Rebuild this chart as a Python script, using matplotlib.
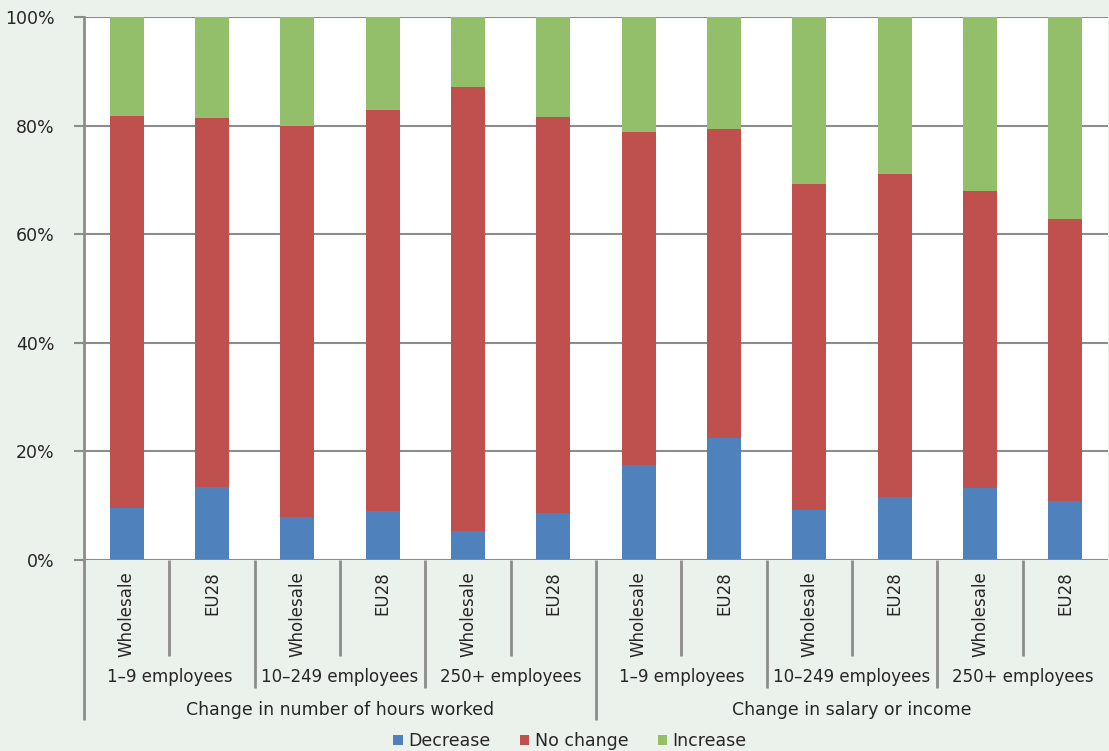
import matplotlib
matplotlib.use("Agg")
import matplotlib.pyplot as plt
import matplotlib.transforms as mtransforms
import numpy as np

# data (percent)
bar_labels = ["Wholesale", "EU28"] * 6
size_labels = ["1\u20139 employees", "10\u2013249 employees", "250+ employees"] * 2
topic_labels = ["Change in number of hours worked", "Change in salary or income"]
decrease = [9.6, 13.4, 7.9, 9.0, 5.3, 8.7, 17.5, 22.5, 9.2, 11.6, 13.3, 10.9]
no_change_top = [81.8, 81.4, 79.9, 82.9, 87.1, 81.6, 78.8, 79.4, 69.2, 71.1, 68.0, 62.8]
no_change = [t - d for t, d in zip(no_change_top, decrease)]
increase = [100 - t for t in no_change_top]

BG = "#ebf1eb"
GRID = "#8c8c8c"
TXT = "#262626"
colors = {"Decrease": "#4f81bd", "No change": "#c0504d", "Increase": "#93bf6a"}

plt.rcParams["font.family"] = ["DejaVu Sans"]

fig = plt.figure(figsize=(11.09, 7.51), dpi=100, facecolor=BG)
ax = fig.add_axes([84 / 1109, 191 / 751, 1024 / 1109, 543 / 751])
ax.set_facecolor("white")

x = np.arange(len(bar_labels))
w = 0.4
ax.bar(x, decrease, w, color=colors["Decrease"], label="Decrease", zorder=3)
ax.bar(x, no_change, w, bottom=decrease, color=colors["No change"], label="No change", zorder=3)
ax.bar(x, increase, w, bottom=no_change_top, color=colors["Increase"], label="Increase", zorder=3)

ax.set_xlim(-0.5, len(x) - 0.5)
ax.set_ylim(0, 100)
ax.set_yticks(range(0, 101, 20))
ax.set_yticklabels([f"{v}%" for v in range(0, 101, 20)], fontsize=12.5, color=TXT)
ax.tick_params(axis="y", length=7, width=1.5, color=GRID, pad=14)
ax.set_xticks([])
ax.grid(axis="y", color=GRID, lw=1.5, zorder=1)
for s in ["top", "right", "bottom"]:
    ax.spines[s].set_visible(False)
ax.spines["left"].set_color(GRID)
ax.spines["left"].set_linewidth(2)
ax.axhline(0, color=GRID, lw=2, zorder=4)

# multi-level category axis, drawn in data-x / pixel-y coordinates
trans = mtransforms.blended_transform_factory(ax.transData, fig.transFigure)
def fy(px):
    return 1 - px / 751

for i, lab in enumerate(bar_labels):
    ax.text(i, fy(571), lab, transform=trans, rotation=90, ha="center", va="top",
            fontsize=12, color=TXT)
for k, lab in enumerate(size_labels):
    ax.text(2 * k + 0.5, fy(677), lab, transform=trans, ha="center", va="center",
            fontsize=12, color=TXT)
for k, lab in enumerate(topic_labels):
    ax.text(6 * k + 2.5, fy(710), lab, transform=trans, ha="center", va="center",
            fontsize=12.5, color=TXT)

# separator lines
for b in np.arange(-0.5, len(x), 1.0):
    idx = int(b + 0.5)
    if idx % 6 == 0:
        bottom = 720
    elif idx % 2 == 0:
        bottom = 688
    else:
        bottom = 656
    if idx == len(x):
        continue
    ax.plot([b, b], [fy(560), fy(bottom)], transform=trans, color=GRID, lw=2,
            clip_on=False, solid_capstyle="butt")

fig.legend(loc="center", bbox_to_anchor=(0.514, 1 - 741 / 751), ncol=3, frameon=False,
           fontsize=12.5, handlelength=0.55, handleheight=0.55, handletextpad=0.3,
           columnspacing=1.7, labelcolor=TXT)

fig.savefig("out.png", dpi=100, facecolor=BG)
